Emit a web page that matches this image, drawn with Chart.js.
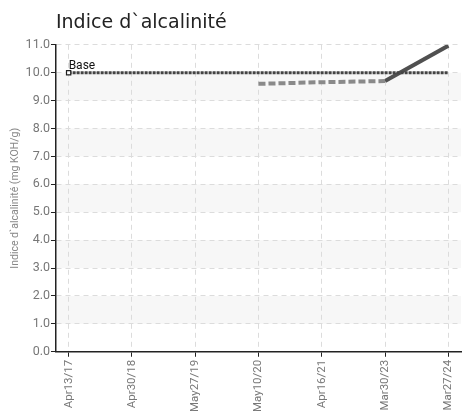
<!DOCTYPE html>
<html>
<head>
<meta charset="utf-8">
<script src="https://cdn.jsdelivr.net/npm/chart.js@4/dist/chart.umd.min.js"></script>
<style>
	html, body { margin: 0; padding: 0; background: #fff; }
	#wrap { width: 467px; height: 415px; }
</style>
</head>
<body>
<div id="wrap"><canvas id="chart"></canvas></div>
<script>
// values
var dateLabels = [ 'Apr13/17', 'Apr30/18', 'May27/19', 'May10/20', 'Apr16/21', 'Mar30/23', 'Mar27/24' ];
var baseValues = [ 10.0, 10.0, 10.0, 10.0, 10.0, 10.0, 10.0 ];
var earlyValues = [ null, null, null, 9.6, 9.66, 9.7, null ];
var lateValues = [ null, null, null, null, null, 9.7, 10.97 ];
var yTicks = [ 0, 1, 2, 3, 4, 5, 6, 7, 8, 9, 10, 11 ];
var shadedBands = [ [ 9, 10 ], [ 7, 8 ], [ 5, 6 ], [ 3, 4 ], [ 1, 2 ] ];

var narrowFont = "'Roboto', sans-serif";

function toPoints(values) {
	var pts = [];
	for (var i = 0; i < values.length; i++) {
		pts.push({ x : i, y : values[i] });
	}
	return pts;
}

// light bands behind the lines
var bandPlugin = {
	id : 'bands',
	beforeDraw : function(chart) {
		var ctx = chart.ctx, area = chart.chartArea, y = chart.scales.y;
		ctx.save();
		ctx.fillStyle = '#f7f7f7';
		shadedBands.forEach(function(b) {
			var top = y.getPixelForValue(b[1]);
			var bottom = y.getPixelForValue(b[0]);
			ctx.fillRect(area.left, top, area.right - area.left, bottom - top);
		});
		ctx.restore();
	}
};

// "Base" label next to the first base point
var baseLabelPlugin = {
	id : 'baseLabel',
	afterDatasetsDraw : function(chart) {
		var pt = chart.getDatasetMeta(0).data[0];
		var ctx = chart.ctx;
		ctx.save();
		ctx.font = '12px ' + narrowFont;
		ctx.fillStyle = '#111';
		ctx.textBaseline = 'bottom';
		ctx.fillText('Base', pt.x, pt.y - 1);
		ctx.restore();
	}
};

new Chart(document.getElementById('chart'), {
	type : 'line',
	data : {
		datasets : [ {
			label : 'Base',
			data : toPoints(baseValues),
			borderColor : '#444',
			borderWidth : 3,
			borderDash : [ 3, 1 ],
			pointStyle : 'rect',
			pointRadius : [ 3, 0, 0, 0, 0, 0, 0 ],
			pointBackgroundColor : '#fff',
			pointBorderColor : '#222',
			pointBorderWidth : 1.2
		}, {
			label : 'early',
			data : toPoints(earlyValues),
			borderColor : '#8a8a8a',
			borderWidth : 4,
			borderDash : [ 7, 3 ],
			pointRadius : 0,
			spanGaps : false
		}, {
			label : 'late',
			data : toPoints(lateValues),
			borderColor : '#505050',
			borderWidth : 4,
			pointRadius : 0
		} ]
	},
	options : {
		responsive : true,
		maintainAspectRatio : false,
		animation : false,
		layout : {
			padding : { left : 9, right : 6, top : 0, bottom : 0 }
		},
		plugins : {
			legend : { display : false },
			tooltip : { enabled : false },
			title : {
				display : true,
				text : 'Indice d`alcalinité',
				align : 'start',
				fullSize : false,
				color : '#222',
				font : { family : "'DejaVu Sans', sans-serif", size : 19, weight : 'normal' },
				padding : { top : 12, bottom : 10 }
			}
		},
		scales : {
			x : {
				type : 'linear',
				min : -0.2,
				max : 6.2,
				afterBuildTicks : function(scale) {
					scale.ticks = dateLabels.map(function(l, i) { return { value : i }; });
				},
				ticks : {
					autoSkip : false,
					minRotation : 90,
					maxRotation : 90,
					color : '#777',
					padding : 3,
					font : { family : narrowFont, size : 11.5 },
					callback : function(v) { return dateLabels[v]; }
				},
				grid : {
					color : '#dcdcdc',
					tickColor : '#222',
					tickBorderDash : [],
					tickLength : 5
				},
				border : { color : '#222', width : 1.5, dash : [ 5, 4 ] }
			},
			y : {
				min : 0,
				max : 11,
				afterBuildTicks : function(scale) {
					scale.ticks = yTicks.map(function(v) { return { value : v }; });
				},
				ticks : {
					color : '#777',
					padding : 1,
					font : { family : narrowFont, size : 12.5 },
					callback : function(v) { return v.toFixed(1); }
				},
				grid : {
					color : '#dcdcdc',
					tickColor : '#222',
					tickBorderDash : [],
					tickLength : 5
				},
				border : { color : '#222', width : 1.5, dash : [ 5, 4 ] },
				title : {
					display : true,
					text : 'Indice d`alcalinité (mg KOH/g)',
					color : '#888',
					font : { family : narrowFont, size : 10.5 },
					padding : { top : 0, bottom : 3 }
				}
			}
		}
	},
	plugins : [ bandPlugin, baseLabelPlugin ]
});
</script>
</body>
</html>
